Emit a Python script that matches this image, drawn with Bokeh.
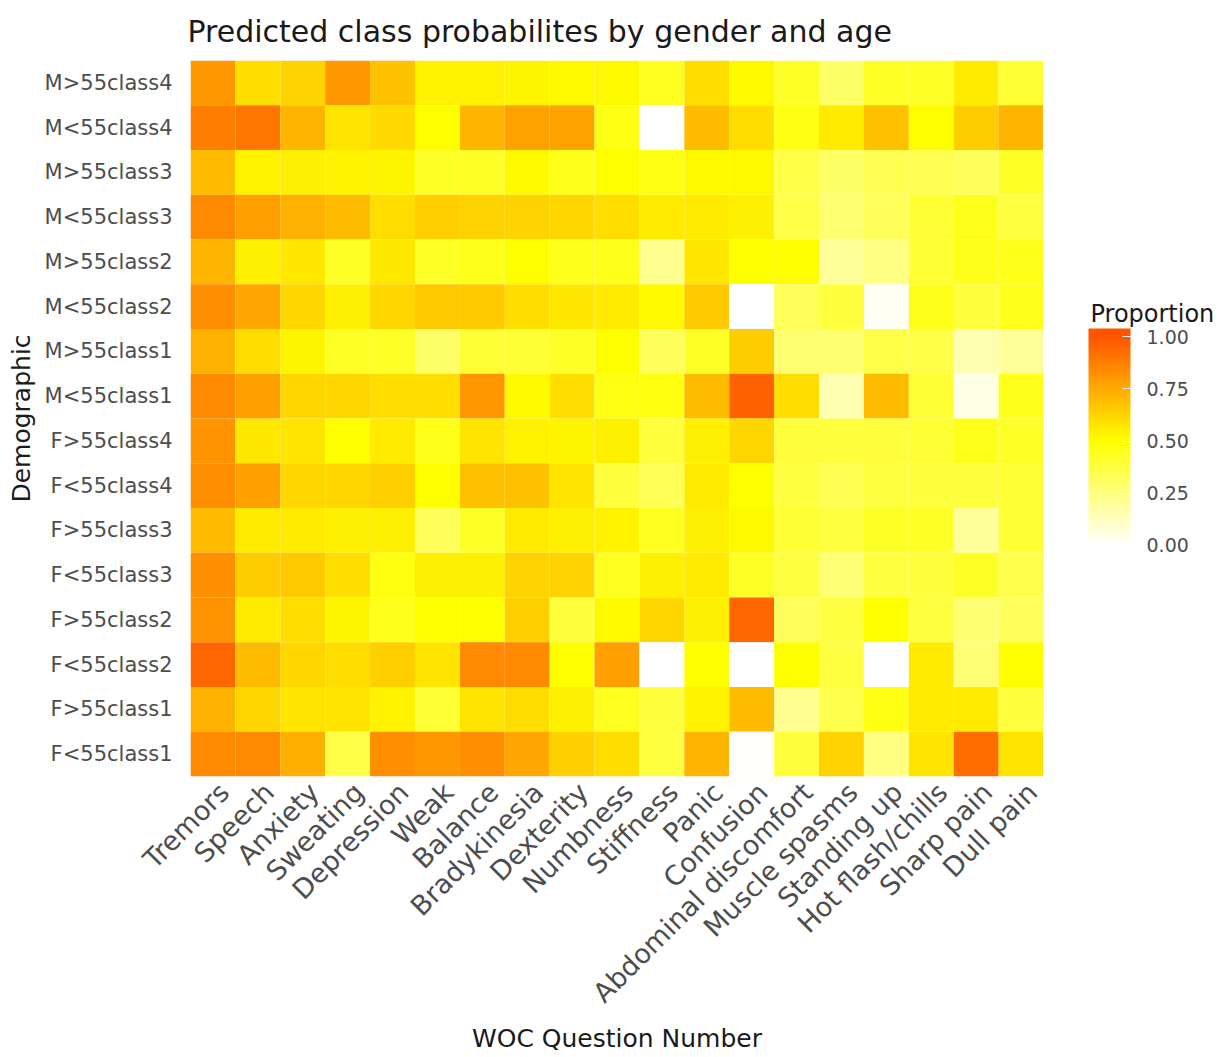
import math
from bokeh.plotting import figure
from bokeh.layouts import row
from bokeh.models import (ColumnDataSource, LinearColorMapper, ColorBar, FixedTicker,
                          PrintfTickFormatter, Range1d, Label)
from bokeh.embed import file_html
from bokeh.resources import INLINE

questions = ["Tremors", "Speech", "Anxiety", "Sweating", "Depression", "Weak", "Balance",
             "Bradykinesia", "Dexterity", "Numbness", "Stiffness", "Panic", "Confusion",
             "Abdominal discomfort", "Muscle spasms", "Standing up", "Hot flash/chills",
             "Sharp pain", "Dull pain"]

demographics = ["M>55class4", "M<55class4", "M>55class3", "M<55class3", "M>55class2",
                "M<55class2", "M>55class1", "M<55class1", "F>55class4", "F<55class4",
                "F>55class3", "F<55class3", "F>55class2", "F<55class2", "F>55class1",
                "F<55class1"]

m_gt55_c4 = [0.80, 0.60, 0.63, 0.80, 0.68, 0.54, 0.54, 0.53, 0.52, 0.52, 0.44, 0.60, 0.52, 0.42, 0.30, 0.42, 0.42, 0.56, 0.40]
m_lt55_c4 = [0.88, 0.90, 0.72, 0.58, 0.61, 0.50, 0.72, 0.77, 0.77, 0.46, 0.00, 0.70, 0.60, 0.46, 0.56, 0.68, 0.50, 0.65, 0.72]
m_gt55_c3 = [0.70, 0.54, 0.55, 0.54, 0.53, 0.42, 0.42, 0.52, 0.45, 0.50, 0.46, 0.52, 0.52, 0.36, 0.30, 0.34, 0.34, 0.32, 0.42]
m_lt55_c3 = [0.85, 0.78, 0.73, 0.70, 0.60, 0.64, 0.63, 0.63, 0.62, 0.60, 0.56, 0.56, 0.55, 0.36, 0.28, 0.32, 0.40, 0.45, 0.37]
m_gt55_c2 = [0.72, 0.55, 0.57, 0.42, 0.57, 0.42, 0.45, 0.50, 0.45, 0.45, 0.22, 0.57, 0.50, 0.50, 0.20, 0.24, 0.40, 0.45, 0.45]
m_lt55_c2 = [0.83, 0.76, 0.62, 0.55, 0.62, 0.66, 0.66, 0.60, 0.57, 0.56, 0.52, 0.66, 0.00, 0.32, 0.38, 0.02, 0.45, 0.38, 0.45]
m_gt55_c1 = [0.73, 0.60, 0.53, 0.42, 0.42, 0.30, 0.40, 0.40, 0.42, 0.50, 0.32, 0.42, 0.65, 0.28, 0.28, 0.36, 0.36, 0.15, 0.20]
m_lt55_c1 = [0.85, 0.78, 0.62, 0.62, 0.60, 0.60, 0.80, 0.52, 0.60, 0.46, 0.47, 0.70, 0.96, 0.60, 0.15, 0.70, 0.40, 0.05, 0.45]
f_gt55_c4 = [0.82, 0.57, 0.58, 0.50, 0.56, 0.45, 0.58, 0.54, 0.53, 0.55, 0.38, 0.55, 0.62, 0.38, 0.38, 0.38, 0.40, 0.45, 0.42]
f_lt55_c4 = [0.83, 0.78, 0.62, 0.62, 0.64, 0.50, 0.68, 0.68, 0.58, 0.38, 0.33, 0.56, 0.50, 0.37, 0.34, 0.37, 0.38, 0.38, 0.40]
f_gt55_c3 = [0.70, 0.56, 0.56, 0.55, 0.55, 0.32, 0.42, 0.56, 0.55, 0.54, 0.44, 0.55, 0.52, 0.40, 0.37, 0.42, 0.42, 0.20, 0.40]
f_lt55_c3 = [0.83, 0.65, 0.66, 0.60, 0.47, 0.55, 0.55, 0.63, 0.63, 0.44, 0.55, 0.56, 0.42, 0.37, 0.27, 0.37, 0.38, 0.42, 0.35]
f_gt55_c2 = [0.82, 0.56, 0.60, 0.53, 0.45, 0.50, 0.50, 0.64, 0.38, 0.52, 0.62, 0.55, 0.95, 0.32, 0.37, 0.50, 0.37, 0.28, 0.32]
f_lt55_c2 = [0.95, 0.70, 0.62, 0.60, 0.64, 0.58, 0.85, 0.85, 0.50, 0.78, 0.00, 0.50, 0.00, 0.50, 0.37, 0.00, 0.56, 0.27, 0.50]
f_gt55_c1 = [0.73, 0.62, 0.58, 0.58, 0.54, 0.40, 0.58, 0.60, 0.55, 0.44, 0.38, 0.54, 0.70, 0.22, 0.35, 0.46, 0.56, 0.56, 0.38]
f_lt55_c1 = [0.85, 0.85, 0.74, 0.36, 0.83, 0.80, 0.83, 0.76, 0.64, 0.60, 0.37, 0.72, 0.01, 0.38, 0.63, 0.25, 0.58, 0.93, 0.58]

rows = [m_gt55_c4, m_lt55_c4, m_gt55_c3, m_lt55_c3, m_gt55_c2, m_lt55_c2, m_gt55_c1, m_lt55_c1,
        f_gt55_c4, f_lt55_c4, f_gt55_c3, f_lt55_c3, f_gt55_c2, f_lt55_c2, f_gt55_c1, f_lt55_c1]

legend_ticks = [0.0, 0.25, 0.5, 0.75, 1.0]

FONT = "DejaVu Sans"

# ---- layout constants (pixels) ----
W, H = 1228, 1057
MAIN_W = 1043                    # main figure: frame from x=190 to x=1043
LEG_W = W - MAIN_W               # legend figure to its right
LEFT, TOP, BOTTOM = 190, 60, 281
FRAME_H = H - TOP - BOTTOM

# table for the library: column index -> numeric x (cell centre at i + 0.5)
nq = len(questions)
nd = len(demographics)
xs, ys, vals = [], [], []
for r, vals_row in enumerate(rows):
    for c, v in enumerate(vals_row):
        xs.append(c + 0.5)
        ys.append(nd - r - 0.5)
        vals.append(v)
source = ColumnDataSource(dict(x=xs, y=ys, proportion=vals))

# white -> yellow -> orange-red gradient (midpoint 0.5)
def grad(v):
    v = min(max(v, 0.0), 1.0)
    if v <= 0.5:
        t = v / 0.5
        r, g, b = 255, 255, 255 * (1 - t)
    else:
        t = (v - 0.5) / 0.5
        r, g, b = 255, 255 - t * (255 - 85), 0
    return "#%02x%02x%02x" % (int(round(r)), int(round(g)), int(round(b)))

LOW, HIGH = -0.04, 1.04
N = 256
palette = [grad(LOW + (i + 0.5) * (HIGH - LOW) / N) for i in range(N)]
mapper = LinearColorMapper(palette=palette, low=LOW, high=HIGH)

p = figure(width=MAIN_W, height=H,
           x_range=Range1d(0, nq), y_range=Range1d(0, nd),
           output_backend="svg", toolbar_location=None,
           min_border_left=LEFT, min_border_top=TOP, min_border_right=0,
           min_border_bottom=BOTTOM,
           title="Predicted class probabilites by gender and age")

p.rect(x="x", y="y", width=1, height=1, source=source,
       fill_color={"field": "proportion", "transform": mapper}, line_color=None)

p.title.text_font = FONT
p.title.text_font_size = "30px"
p.title.text_font_style = "normal"
p.title.text_color = "#1a1a1a"
p.title.align = "left"
p.title.vertical_align = "top"
p.title.standoff = 20
p.title.offset = -3

p.outline_line_color = None
p.grid.grid_line_color = None
p.background_fill_color = "white"
p.border_fill_color = "white"

# x tick labels (anchored slightly right of the cell centre, as ggplot's hjust=1 text does)
x_ticks = [i + 0.75 for i in range(nq)]
p.xaxis.ticker = FixedTicker(ticks=x_ticks)
p.xaxis.major_label_overrides = {t: q for t, q in zip(x_ticks, questions)}
y_ticks = [nd - r - 0.5 for r in range(nd)]
p.yaxis.ticker = FixedTicker(ticks=y_ticks)
p.yaxis.major_label_overrides = {t: d for t, d in zip(y_ticks, demographics)}

for ax in (p.xaxis, p.yaxis):
    ax.axis_line_color = None
    ax.major_tick_line_color = None
    ax.minor_tick_line_color = None
    ax.major_tick_in = 0
    ax.major_tick_out = 0
    ax.minor_tick_in = 0
    ax.minor_tick_out = 0
    ax.major_label_text_font = FONT
    ax.major_label_text_color = "#4d4d4d"
    ax.axis_label_text_font = FONT
    ax.axis_label_text_font_style = "normal"
    ax.axis_label_text_color = "#1a1a1a"
    ax.axis_label_text_font_size = "25px"

p.yaxis.major_label_text_font_size = "21px"
p.yaxis.major_label_standoff = 18
p.yaxis.axis_label = "Demographic"
p.yaxis.axis_label_standoff = 6

p.xaxis.major_label_text_font_size = "27px"
p.xaxis.major_label_orientation = math.pi / 4
p.xaxis.major_label_standoff = 11
p.xaxis.axis_label = "WOC Question Number"
p.xaxis.axis_label_standoff = 2

# ---- legend figure: frame spans the same rows as the heat map, pixel-like data units ----
leg = figure(width=LEG_W, height=H,
             x_range=Range1d(0, LEG_W), y_range=Range1d(0, FRAME_H),
             output_backend="svg", toolbar_location=None,
             min_border_left=0, min_border_right=0,
             min_border_top=TOP, min_border_bottom=BOTTOM)
leg.xaxis.visible = False
leg.yaxis.visible = False
leg.grid.grid_line_color = None
leg.outline_line_color = None
leg.background_fill_color = "white"
leg.border_fill_color = "white"

BAR_X, BAR_Y, BAR_W, BAR_H = 45, 223, 42, 225
color_bar = ColorBar(color_mapper=mapper,
                     ticker=FixedTicker(ticks=legend_ticks),
                     formatter=PrintfTickFormatter(format="%.2f"),
                     width=BAR_W, height=BAR_H,
                     location=(BAR_X, BAR_Y),
                     margin=0, padding=0,
                     major_label_text_font=FONT, major_label_text_font_size="19px",
                     major_label_text_color="#4d4d4d",
                     label_standoff=16,
                     major_tick_line_color="white", major_tick_in=8, major_tick_out=0,
                     bar_line_color=None, border_line_color=None,
                     background_fill_color=None)
leg.add_layout(color_bar, "center")

leg.add_layout(Label(x=BAR_X + 2, y=BAR_Y + BAR_H + 15,
                     text="Proportion", text_font=FONT, text_font_size="24px",
                     text_color="#1a1a1a", text_baseline="alphabetic", text_align="left"))

layout = row(p, leg, spacing=0)

open("out.html", "w").write(file_html(layout, INLINE))
